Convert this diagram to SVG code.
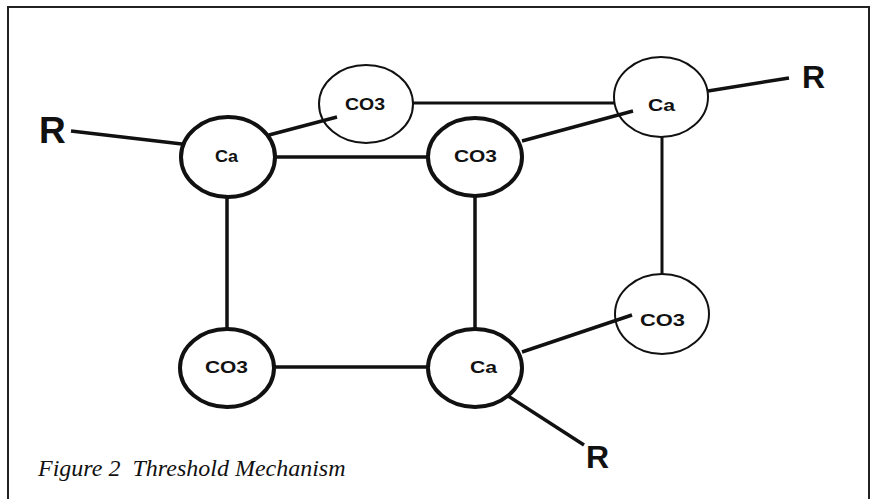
<svg xmlns="http://www.w3.org/2000/svg" width="875" height="499" viewBox="0 0 875 499">
  <style>
    .frame { fill: none; stroke: #222; stroke-width: 2; }
    .bond { stroke: #111; stroke-width: 3.5; fill: none; stroke-linecap: butt; }
    .bond-thin { stroke: #111; stroke-width: 3; fill: none; }
    .atom-thick { fill: #fff; stroke: #111; stroke-width: 4; }
    .atom-thin { fill: #fff; stroke: #111; stroke-width: 2; }
    .lbl { font-family: "Liberation Sans", Arial, sans-serif; font-weight: bold; font-size: 16px; fill: #111; }
    .r { font-family: "Liberation Sans", Arial, sans-serif; font-weight: bold; fill: #111; }
    .caption { font-family: "Liberation Serif", "Times New Roman", serif; font-style: italic; font-size: 24px; fill: #111; }
  </style>

  <!-- outer frame (open at the bottom edge) -->
  <path class="frame" d="M8,499 V7 H869 V499"/>

  <!-- atoms -->
  <g id="ca-left">
    <ellipse class="atom-thick" cx="228" cy="157" rx="47" ry="40"/>
    <text class="lbl" x="215" y="162" textLength="23" lengthAdjust="spacingAndGlyphs">Ca</text>
  </g>
  <g id="co3-top">
    <ellipse class="atom-thin" cx="366" cy="104" rx="47" ry="39"/>
    <text class="lbl" x="345" y="110" textLength="40" lengthAdjust="spacingAndGlyphs">CO3</text>
  </g>
  <g id="co3-mid">
    <ellipse class="atom-thick" cx="475" cy="157" rx="47" ry="39"/>
    <text class="lbl" x="454" y="162" textLength="43" lengthAdjust="spacingAndGlyphs">CO3</text>
  </g>
  <g id="ca-top-right">
    <ellipse class="atom-thin" cx="661" cy="97" rx="47" ry="40"/>
    <text class="lbl" x="648" y="111" textLength="27" lengthAdjust="spacingAndGlyphs">Ca</text>
  </g>
  <g id="co3-right">
    <ellipse class="atom-thin" cx="662" cy="314" rx="47" ry="40"/>
    <text class="lbl" x="640" y="326" textLength="45" lengthAdjust="spacingAndGlyphs">CO3</text>
  </g>
  <g id="co3-bottom-left">
    <ellipse class="atom-thick" cx="227" cy="368" rx="47" ry="39"/>
    <text class="lbl" x="205" y="373" textLength="43" lengthAdjust="spacingAndGlyphs">CO3</text>
  </g>
  <g id="ca-bottom">
    <ellipse class="atom-thick" cx="475" cy="368" rx="47" ry="39"/>
    <text class="lbl" x="470" y="373" textLength="27" lengthAdjust="spacingAndGlyphs">Ca</text>
  </g>

  <!-- bonds, drawn over the atom rims so the short stubs poke inside -->
  <g id="connectors">
    <line class="bond" x1="71" y1="131" x2="182" y2="144"/>
    <line class="bond" x1="269" y1="135" x2="337" y2="117"/>
    <line class="bond" x1="275" y1="157" x2="428" y2="157"/>
    <line class="bond-thin" x1="413" y1="103" x2="615" y2="103"/>
    <line class="bond" x1="522" y1="141" x2="633" y2="111"/>
    <line class="bond" x1="708" y1="91" x2="789" y2="78"/>
    <line class="bond-thin" x1="662" y1="137" x2="662" y2="274"/>
    <line class="bond" x1="227" y1="197" x2="227" y2="329"/>
    <line class="bond" x1="475" y1="195" x2="475" y2="329"/>
    <line class="bond" x1="274" y1="367" x2="428" y2="367"/>
    <line class="bond" x1="522" y1="352" x2="632" y2="315"/>
    <line class="bond" x1="508" y1="396" x2="584" y2="445"/>
  </g>

  <!-- R groups -->
  <g id="r-left"><text class="r" x="39" y="143" font-size="37">R</text></g>
  <g id="r-right"><text class="r" x="802" y="88" font-size="32">R</text></g>
  <g id="r-bottom"><text class="r" x="586" y="468" font-size="32" style="font-weight:600">R</text></g>

  <text class="caption" x="38" y="476" xml:space="preserve">Figure 2  Threshold Mechanism</text>
</svg>
